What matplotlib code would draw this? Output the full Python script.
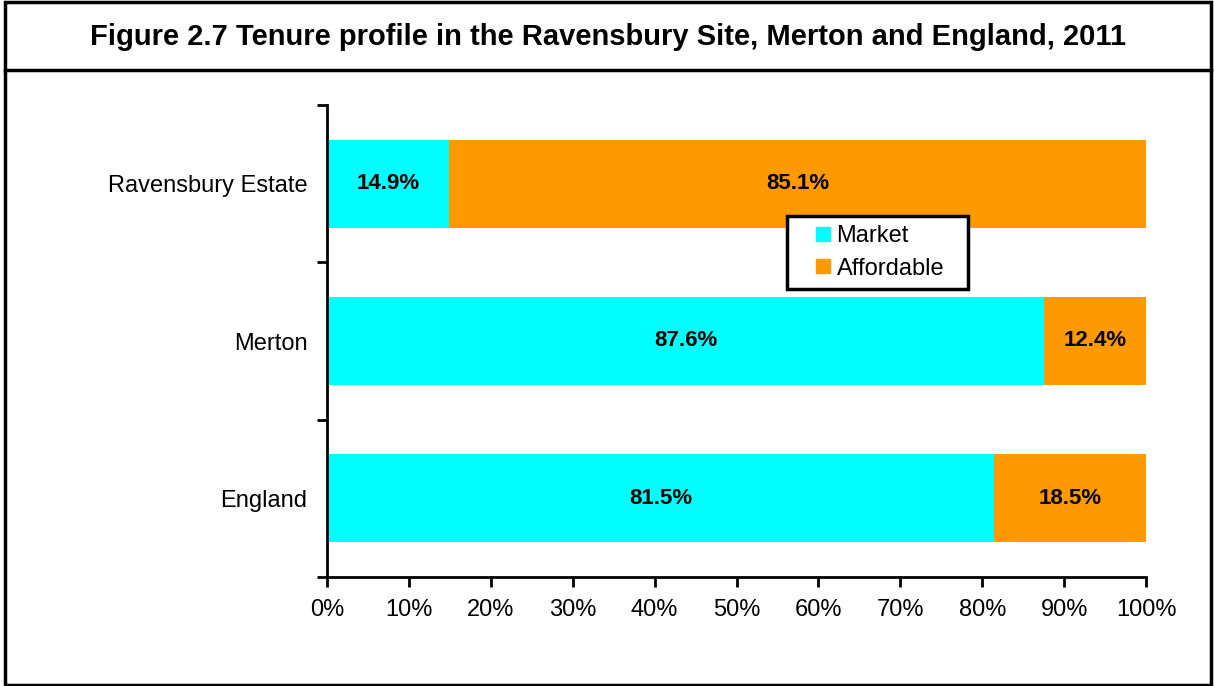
import matplotlib
matplotlib.use("Agg")
import matplotlib.pyplot as plt
from matplotlib.patches import Rectangle
from matplotlib.lines import Line2D

plt.rcParams['font.family'] = ['Liberation Sans', 'DejaVu Sans']

categories = ["England", "Merton", "Ravensbury Estate"]
market = [81.5, 87.6, 14.9]
affordable = [18.5, 12.4, 85.1]
xticks = [0, 10, 20, 30, 40, 50, 60, 70, 80, 90, 100]
title = "Figure 2.7 Tenure profile in the Ravensbury Site, Merton and England, 2011"

c_market = "#00FFFF"
c_afford = "#FF9900"

W, H = 1214, 686
fig = plt.figure(figsize=(W / 100, H / 100), dpi=100)

# outer border and title separator
fig.patches.append(Rectangle((5 / W, 1.5 / H), (1211 - 5) / W, (684 - 1.5) / H,
                             transform=fig.transFigure, fill=False,
                             edgecolor="black", linewidth=2.5))
fig.add_artist(Line2D([5 / W, 1211 / W], [1 - 70 / H, 1 - 70 / H],
                      transform=fig.transFigure, color="black", linewidth=2.5))
fig.text(608 / W, 1 - 37 / H, title, ha="center", va="center",
         fontsize=21, fontweight="bold")

left, right, top, bottom = 327, 1146, 105, 577
ax = fig.add_axes([left / W, 1 - bottom / H, (right - left) / W, (bottom - top) / H])

ypos = list(range(len(categories)))
bh = 0.56
ax.barh(ypos, market, height=bh, color=c_market, label="Market")
ax.barh(ypos, affordable, left=market, height=bh, color=c_afford, label="Affordable")

for y, m, a in zip(ypos, market, affordable):
    ax.text(m / 2, y, f"{m:.1f}%", ha="center", va="center", fontsize=16, fontweight="bold")
    ax.text(m + a / 2, y, f"{a:.1f}%", ha="center", va="center", fontsize=16, fontweight="bold")

ax.set_xlim(0, 100)
ax.set_ylim(-0.5, len(categories) - 0.5)
ax.set_xticks(xticks)
ax.set_xticklabels([f"{t}%" for t in xticks], fontsize=17)
ax.set_yticks([i - 0.5 for i in range(len(categories) + 1)])
ax.set_yticklabels([])
ax.set_yticks(ypos, minor=True)
ax.set_yticklabels(categories, minor=True, fontsize=17)
ax.tick_params(axis="y", which="minor", length=0, pad=14)
ax.tick_params(axis="y", which="major", length=7, width=2)
ax.tick_params(axis="x", length=7, width=2, pad=9)

for s in ["top", "right"]:
    ax.spines[s].set_visible(False)
for s in ["left", "bottom"]:
    ax.spines[s].set_linewidth(2)

handles = [Line2D([], [], linestyle="none", marker="s", markersize=9.5,
                  markerfacecolor=c_market, markeredgecolor=c_market, label="Market"),
           Line2D([], [], linestyle="none", marker="s", markersize=9.5,
                  markerfacecolor=c_afford, markeredgecolor=c_afford, label="Affordable")]
lx0 = (787 - left) / (right - left)
lw = (968 - 787) / (right - left)
ltop = (bottom - 216) / (bottom - top)
leg = ax.legend(handles=handles, loc="upper left",
                bbox_to_anchor=(lx0, ltop - 0.2, lw, 0.2), mode="expand",
                borderaxespad=0, fontsize=17, frameon=True, fancybox=False,
                framealpha=1, handlelength=2.25, handletextpad=-0.55,
                borderpad=0.4, labelspacing=0.43)
leg.get_frame().set_edgecolor("black")
leg.get_frame().set_linewidth(2.5)

fig.savefig("out.png", dpi=100)
